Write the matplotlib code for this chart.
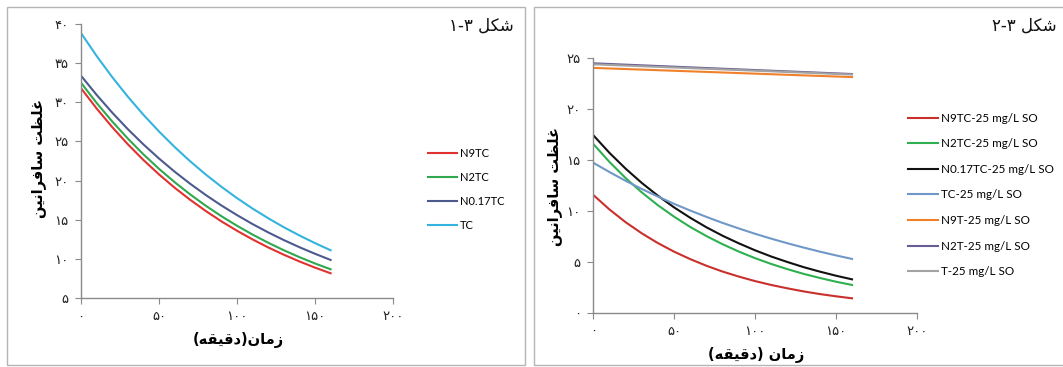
import matplotlib
matplotlib.use('Agg')
import matplotlib.pyplot as plt
from matplotlib.patches import Rectangle

# time axis (minutes)
time_min = [0, 10, 20, 30, 40, 50, 60, 70, 80, 90, 100, 110, 120, 130, 140, 150, 160]

# left chart (figure 3-1)
left_n9tc = [31.8, 29.21, 26.83, 24.64, 22.63, 20.79, 19.09, 17.54, 16.11,
             14.79, 13.59, 12.48, 11.46, 10.53, 9.67, 8.88, 8.16]
left_n2tc = [32.5, 29.92, 27.55, 25.37, 23.35, 21.50, 19.80, 18.23, 16.78,
             15.45, 14.23, 13.10, 12.06, 11.10, 10.22, 9.41, 8.67]
left_n017tc = [33.4, 30.95, 28.68, 26.57, 24.62, 22.82, 21.14, 19.59, 18.15,
               16.82, 15.59, 14.44, 13.38, 12.40, 11.49, 10.65, 9.86]
left_tc = [38.85, 35.92, 33.22, 30.72, 28.41, 26.27, 24.29, 22.46, 20.77,
           19.21, 17.76, 16.42, 15.19, 14.04, 12.99, 12.01, 11.1]
left_labels = ['N9TC', 'N2TC', 'N0.17TC', 'TC']
left_colors = ['#e2322f', '#2fa84f', '#4c5a8e', '#35b3df']

# right chart (figure 3-2)
right_n9tc = [11.54, 10.12, 8.87, 7.78, 6.82, 5.98, 5.25, 4.60, 4.03,
              3.54, 3.10, 2.72, 2.39, 2.09, 1.83, 1.61, 1.41]
right_n2tc = [16.54, 14.78, 13.20, 11.79, 10.53, 9.41, 8.40, 7.51, 6.71,
              5.99, 5.35, 4.78, 4.27, 3.81, 3.41, 3.04, 2.72]
right_n017tc = [17.4, 15.67, 14.12, 12.72, 11.46, 10.32, 9.30, 8.37, 7.54,
                6.80, 6.12, 5.51, 4.97, 4.47, 4.03, 3.63, 3.27]
right_tc = [14.7, 13.79, 12.93, 12.13, 11.38, 10.67, 10.01, 9.39, 8.80,
            8.26, 7.74, 7.26, 6.81, 6.39, 5.99, 5.62, 5.27]
flat_time = [0, 80, 160]
right_n9t = [24.0, 23.55, 23.1]
right_n2t = [24.45, 23.92, 23.4]
right_t = [24.35, 23.85, 23.35]
right_labels = ['N9TC-25 mg/L SO', 'N2TC-25 mg/L SO', 'N0.17TC-25 mg/L SO',
                'TC-25 mg/L SO', 'N9T-25 mg/L SO', 'N2T-25 mg/L SO', 'T-25 mg/L SO']
right_colors = ['#c9302c', '#2fb050', '#111111', '#6f98c8', '#f0812a', '#6a5c94', '#a3a3a3']

x_ticks = [0, 50, 100, 150, 200]
left_y_ticks = [5, 10, 15, 20, 25, 30, 35, 40]
right_y_ticks = [0, 5, 10, 15, 20, 25]

# Persian text, written in visual order with presentation forms
SHEKL = '\uFEDE\uFEDC\uFEB7'
title_left = '\u06F1-\u06F3 ' + SHEKL
title_right = '\u06F2-\u06F3 ' + SHEKL
ylabel_fa = '\uFEE6\uFEF4\uFEE7\uFE8D\uFEAE\uFED3\uFE8E\uFEB3 \uFE96\uFEC8\uFEE0\uFECF'
DAGHIGHE = '\uFEEA\uFED8\uFEF4\uFED7\uFEA9'
ZAMAN = '\uFEE5\uFE8E\uFEE3\uFEAF'
xlabel_left = '(' + DAGHIGHE + ')' + ZAMAN
xlabel_right = '(' + DAGHIGHE + ') ' + ZAMAN

W, H = 1063, 367
FA_DIGITS = str.maketrans('0123456789', '\u06F0\u06F1\u06F2\u06F3\u06F4\u06F5\u06F6\u06F7\u06F8\u06F9')


def fa(n):
    return str(n).translate(FA_DIGITS)


def px_axes(fig, x0, x1, ytop, ybot):
    return fig.add_axes([x0 / W, (H - ybot) / H, (x1 - x0) / W, (ybot - ytop) / H])


def style_axes(ax, yticks):
    for s in ['top', 'right']:
        ax.spines[s].set_visible(False)
    for s in ['left', 'bottom']:
        ax.spines[s].set_color('#8a8a8a')
        ax.spines[s].set_linewidth(1.0)
    ax.set_xlim(0, 200)
    ax.set_ylim(yticks[0], yticks[-1])
    ax.set_xticks(x_ticks)
    ax.set_xticklabels([fa(t) for t in x_ticks])
    ax.set_yticks(yticks)
    ax.set_yticklabels([fa(t) for t in yticks])
    ax.tick_params(direction='out', length=4, color='#8a8a8a', labelsize=9.5,
                   labelcolor='#222222')
    ax.tick_params(axis='x', pad=5)
    ax.tick_params(axis='y', pad=5)
    ax.patch.set_alpha(0)


fig = plt.figure(figsize=(W / 100, H / 100), dpi=100)
fig.patch.set_facecolor('white')

# panel frames
fig.patches.append(Rectangle((7 / W, (H - 365) / H), 518 / W, 358 / H, transform=fig.transFigure,
                             fill=False, edgecolor='#b5b5b5', linewidth=1.0))
fig.patches.append(Rectangle((534 / W, (H - 365) / H), 540 / W, 358 / H, transform=fig.transFigure,
                             fill=False, edgecolor='#b5b5b5', linewidth=1.0))

# left chart
ax1 = px_axes(fig, 81, 393, 24, 298)
for ys, lab, col in zip([left_n9tc, left_n2tc, left_n017tc, left_tc], left_labels, left_colors):
    ax1.plot(time_min, ys, color=col, lw=1.5, label=lab)
style_axes(ax1, left_y_ticks)
ax1.legend(loc='center left', bbox_to_anchor=(428 / W, (H - 189.5) / H),
           bbox_transform=fig.transFigure, frameon=False,
           prop={'family': 'Lato', 'size': 8}, handlelength=2.6,
           handletextpad=0.25, labelspacing=1.15, borderpad=0, borderaxespad=0)

# right chart
ax2 = px_axes(fig, 593.3, 916.7, 57.7, 312.7)
curves = [right_n9tc, right_n2tc, right_n017tc, right_tc]
for ys, lab, col in zip(curves, right_labels[:4], right_colors[:4]):
    ax2.plot(time_min, ys, color=col, lw=1.5, label=lab)
for ys, lab, col in zip([right_n9t, right_n2t, right_t], right_labels[4:], right_colors[4:]):
    ax2.plot(flat_time, ys, color=col, lw=1.5, label=lab)
style_axes(ax2, right_y_ticks)
ax2.legend(loc='center left', bbox_to_anchor=(907.7 / W, (H - 195) / H),
           bbox_transform=fig.transFigure, frameon=False,
           prop={'family': 'Lato', 'size': 8.4}, handlelength=2.6,
           handletextpad=0.25, labelspacing=1.25, borderpad=0, borderaxespad=0)

# titles
fig.text(514 / W, (H - 26) / H, title_left, ha='right', va='center', fontsize=12,
         family='DejaVu Sans', color='#111111')
fig.text(1057 / W, (H - 26) / H, title_right, ha='right', va='center', fontsize=12,
         family='DejaVu Sans', color='#111111')

# axis labels
fig.text(39 / W, (H - 158) / H, ylabel_fa, rotation=90, ha='center', va='center',
         fontsize=10.5, fontweight='bold', family='DejaVu Sans')
fig.text(555 / W, (H - 187) / H, ylabel_fa, rotation=90, ha='center', va='center',
         fontsize=10.5, fontweight='bold', family='DejaVu Sans')
fig.text(238 / W, (H - 340) / H, xlabel_left, ha='center', va='center',
         fontsize=10.5, fontweight='bold', family='DejaVu Sans')
fig.text(756 / W, (H - 355) / H, xlabel_right, ha='center', va='center',
         fontsize=10.5, fontweight='bold', family='DejaVu Sans')

fig.savefig('out.png', dpi=100, facecolor='white')
